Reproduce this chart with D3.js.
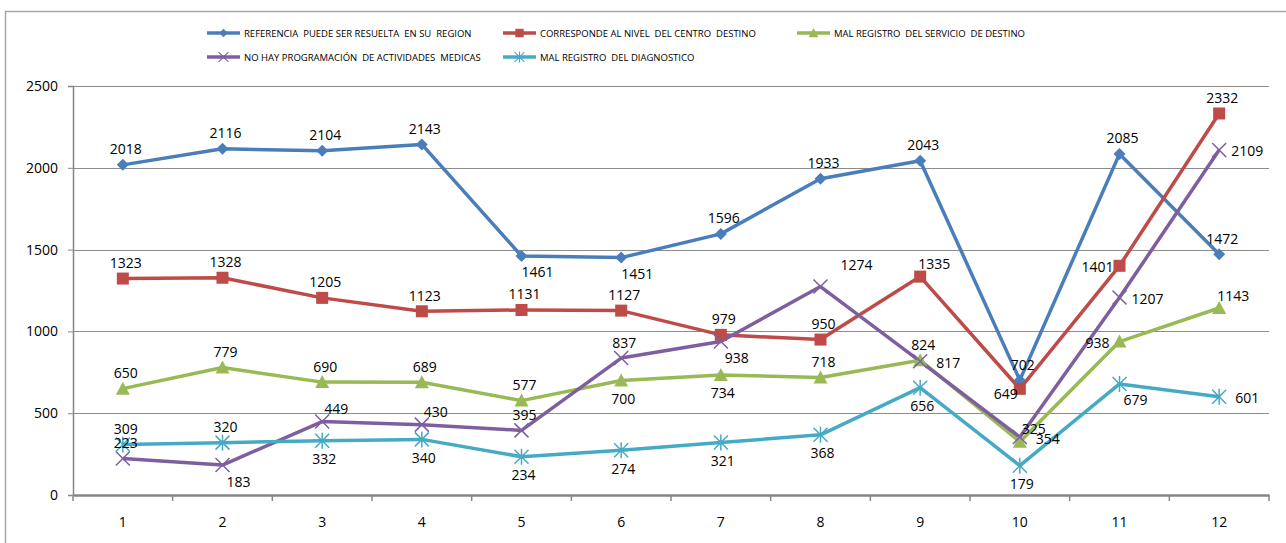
<!DOCTYPE html>
<html>
<head>
<meta charset="utf-8">
<script src="https://cdn.jsdelivr.net/npm/d3@7"></script>
<style>
  body { margin: 0; background: #fff; }
  text { font-family: "Open Sans", "Liberation Sans", sans-serif; fill: #000; }
</style>
</head>
<body>
<svg id="chart"></svg>
<script>
const months = [1, 2, 3, 4, 5, 6, 7, 8, 9, 10, 11, 12];
const yTicks = [0, 500, 1000, 1500, 2000, 2500];

const seriesNames = [
  'REFERENCIA  PUEDE SER RESUELTA  EN SU  REGION',
  'CORRESPONDE AL NIVEL  DEL CENTRO  DESTINO',
  'MAL REGISTRO  DEL SERVICIO  DE DESTINO',
  'NO HAY PROGRAMACIÓN  DE ACTIVIDADES  MEDICAS',
  'MAL REGISTRO  DEL DIAGNOSTICO'
];
const referencia = [2018, 2116, 2104, 2143, 1461, 1451, 1596, 1933, 2043, 702, 2085, 1472];
const corresponde = [1323, 1328, 1205, 1123, 1131, 1127, 979, 950, 1335, 649, 1401, 2332];
const malServicio = [650, 779, 690, 689, 577, 700, 734, 718, 824, 325, 938, 1143];
const noProgramacion = [223, 183, 449, 430, 395, 837, 938, 1274, 817, 354, 1207, 2109];
const malDiagnostico = [309, 320, 332, 340, 234, 274, 321, 368, 656, 179, 679, 601];

// where each data label sits relative to its point
const labelPos = [
  ['a', 'a', 'a', 'a', 'br', 'br', 'a', 'a', 'a', 'a', 'a', 'a'],
  ['a', 'a', 'a', 'a', 'a', 'a', 'a', 'a', 'ar', 'bl', 'l', 'a'],
  ['a', 'a', 'a', 'a', 'a', 'b', 'b', 'a', 'a', 'ar', 'l', 'ar'],
  ['a', 'br', 'ar', 'ar', 'a', 'a', 'br', 'ar2', 'r', 'r', 'r', 'r'],
  ['a', 'a', 'b', 'b', 'b', 'b', 'b', 'b', 'b', 'b', 'br', 'r']
];

const colors = ['#4A7EBB', '#BE4B48', '#98B954', '#7D5FA0', '#46AAC5'];
const markers = ['diamond', 'square', 'triangle', 'x', 'star'];
const seriesData = [referencia, corresponde, malServicio, noProgramacion, malDiagnostico];

const W = 1286, H = 543;
const plot = { left: 73, right: 1269, top: 86, bottom: 495 };

const svg = d3.select('#chart').attr('width', W).attr('height', H);

// outer frame
svg.append('path')
  .attr('d', `M5.5,${H} V11.5 H${W}`)
  .attr('fill', 'none')
  .attr('stroke', '#a6a6a6')
  .attr('stroke-width', 1.5);

const x = d3.scaleBand().domain(months).range([plot.left, plot.right]);
const y = d3.scaleLinear().domain([0, 2500]).range([plot.bottom, plot.top]);

// gridlines
svg.append('g')
  .selectAll('line')
  .data(yTicks.filter(d => d > 0))
  .enter()
  .append('line')
  .attr('x1', plot.left)
  .attr('x2', plot.right)
  .attr('y1', d => Math.round(y(d)) + 0.5)
  .attr('y2', d => Math.round(y(d)) + 0.5)
  .attr('stroke', '#8c8c8c')
  .attr('stroke-width', 1);

// y axis
const yAxis = svg.append('g')
  .attr('transform', `translate(${plot.left}, 0)`)
  .call(d3.axisLeft(y).tickValues(yTicks).tickSize(5).tickPadding(10).tickFormat(d3.format('d')));
yAxis.select('.domain').attr('stroke', '#868686').attr('stroke-width', 1.5);
yAxis.selectAll('.tick line').attr('stroke', '#868686');
yAxis.selectAll('.tick text').style('font-size', '14px');

// x axis
const xAxis = svg.append('g')
  .attr('transform', `translate(0, ${plot.bottom})`)
  .call(d3.axisBottom(x).tickSize(0).tickPadding(22));
xAxis.select('.domain').attr('stroke', '#868686').attr('stroke-width', 2.5);
xAxis.selectAll('.tick text').style('font-size', '14px');
xAxis.append('g')
  .selectAll('line')
  .data(months.concat([13]))
  .enter()
  .append('line')
  .attr('x1', d => d <= 12 ? x(d) : plot.right)
  .attr('x2', d => d <= 12 ? x(d) : plot.right)
  .attr('y1', 0)
  .attr('y2', 6)
  .attr('stroke', '#868686')
  .attr('stroke-width', 1.5);

const cx = d => x(d) + x.bandwidth() / 2;

function drawMarker(g, type, color) {
  if (type === 'diamond') {
    g.append('path').attr('d', 'M0,-6 L6,0 L0,6 L-6,0Z').attr('fill', color);
  } else if (type === 'square') {
    g.append('rect').attr('x', -6).attr('y', -6).attr('width', 12).attr('height', 12).attr('fill', color);
  } else if (type === 'triangle') {
    g.append('path').attr('d', 'M0,-7 L7,6 L-7,6Z').attr('fill', color);
  } else if (type === 'x') {
    g.append('path').attr('d', 'M-7,-7 L7,7 M-7,7 L7,-7').attr('stroke', color).attr('stroke-width', 1.5);
  } else if (type === 'star') {
    g.append('path').attr('d', 'M-7,-7 L7,7 M-7,7 L7,-7 M0,-8 V8').attr('stroke', color).attr('stroke-width', 1.5);
  }
}

const labelOffset = {
  a: [3, -16], b: [2, 18], r: [28, 1], l: [-22, 1], ar: [14, -13], ar2: [36, -22],
  br: [16, 16], bl: [-14, 5]
};

const line = d3.line().x((d, i) => cx(months[i])).y(d => y(d));

seriesData.forEach((values, s) => {
  svg.append('path')
    .datum(values)
    .attr('d', line)
    .attr('fill', 'none')
    .attr('stroke', colors[s])
    .attr('stroke-width', 3.5)
    .attr('stroke-linejoin', 'round');
});

seriesData.forEach((values, s) => {
  const pts = svg.append('g').selectAll('g')
    .data(values)
    .enter()
    .append('g')
    .attr('transform', (d, i) => `translate(${cx(months[i])}, ${y(d)})`);
  pts.each(function () { drawMarker(d3.select(this), markers[s], colors[s]); });
});

seriesData.forEach((values, s) => {
  svg.append('g').selectAll('text')
    .data(values)
    .enter()
    .append('text')
    .attr('x', (d, i) => cx(months[i]) + labelOffset[labelPos[s][i]][0])
    .attr('y', (d, i) => y(d) + labelOffset[labelPos[s][i]][1])
    .attr('text-anchor', 'middle')
    .attr('dominant-baseline', 'central')
    .style('font-size', '14px')
    .text(d => d);
});

// legend
const legendX = [207, 503, 797];
const legend = svg.append('g');
seriesNames.forEach((name, s) => {
  const lx = legendX[s % 3];
  const ly = s < 3 ? 33 : 57;
  const g = legend.append('g').attr('transform', `translate(${lx}, ${ly})`);
  g.append('line')
    .attr('x1', 0).attr('x2', 33)
    .attr('stroke', colors[s])
    .attr('stroke-width', 3.5);
  const m = g.append('g').attr('transform', 'translate(16.5, 0) scale(0.7)');
  drawMarker(m, markers[s], colors[s]);
  g.append('text')
    .attr('x', 37)
    .attr('dominant-baseline', 'central')
    .style('font-size', '9.5px')
    .style('white-space', 'pre')
    .text(name);
});
</script>
</body>
</html>
